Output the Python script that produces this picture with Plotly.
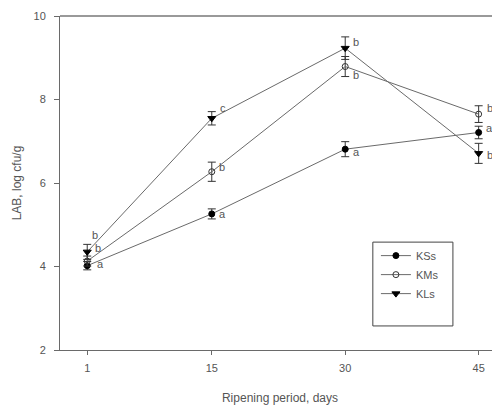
import plotly.graph_objects as go

days = [1, 15, 30, 45]
series_names = ["KSs", "KMs", "KLs"]
kss = [4.02, 5.26, 6.81, 7.21]
kms = [4.13, 6.27, 8.79, 7.65]
kls = [4.35, 7.55, 9.23, 6.71]
kss_err = [0.10, 0.12, 0.18, 0.15]
kms_err = [0.12, 0.23, 0.24, 0.20]
kls_err = [0.18, 0.16, 0.27, 0.24]
kss_letters = ["a", "a", "a", "a"]
kms_letters = ["b", "b", "b", "b"]
kls_letters = ["b", "c", "b", "b"]

x_ticks = [1, 15, 30, 45]
y_ticks = [2, 4, 6, 8, 10]

# label pixel offsets (style)
offsets = {
    "KSs": [(13, 2), (11, 0), (11, -3), (11, 4)],
    "KMs": [(11, 13), (10, 5), (11, -8), (11, 6)],
    "KLs": [(8, 17), (11, 10), (11, 6), (11, -2)],
}

line_col = "#6a6a6a"
txt_col = "#555555"
font_fam = "Liberation Sans, Arial, sans-serif"

fig = go.Figure()
specs = [
    ("KSs", kss, kss_err, kss_letters, dict(symbol="circle", size=6, color="black",
                                          line=dict(color="black", width=1))),
    ("KMs", kms, kms_err, kms_letters, dict(symbol="circle-open", size=6, color="#333333",
                                          line=dict(color="#333333", width=1))),
    ("KLs", kls, kls_err, kls_letters, dict(symbol="triangle-down", size=7, color="black",
                                          line=dict(color="black", width=1))),
]

for name, ys, errs, letters, mk in specs:
    fig.add_trace(go.Scatter(
        x=days, y=ys, name=name, mode="lines+markers",
        line=dict(color=line_col, width=1),
        marker=mk,
        error_y=dict(type="data", array=errs, visible=True, color="#333333",
                     thickness=1, width=4),
    ))
    for i, (xv, yv, lab) in enumerate(zip(days, ys, letters)):
        dx, dy = offsets[name][i]
        fig.add_annotation(x=xv, y=yv, text=lab, showarrow=False,
                           xshift=dx, yshift=dy,
                           font=dict(family=font_fam, size=11, color=txt_col))

# top border line
fig.add_shape(type="line", xref="paper", yref="paper", x0=0, x1=1, y0=1, y1=1,
              line=dict(color="#999999", width=2))
# legend box
fig.add_shape(type="rect", xref="paper", yref="paper",
              x0=0.711, x1=0.893, y0=0.072, y1=0.323,
              line=dict(color="#444444", width=1), fillcolor="rgba(0,0,0,0)")

fig.update_layout(
    width=500, height=406,
    margin=dict(l=52, r=8, t=8, b=64, autoexpand=False),
    paper_bgcolor="white", plot_bgcolor="white",
    font=dict(family=font_fam, size=11, color=txt_col),
    showlegend=True,
    legend=dict(x=0.718, y=0.326, xanchor="left", yanchor="top",
                bgcolor="rgba(0,0,0,0)", borderwidth=0,
                font=dict(family=font_fam, size=11, color=txt_col),
                itemwidth=30, tracegroupgap=0),
    xaxis=dict(range=[-2.06, 47.4], tickvals=x_ticks, ticktext=[str(t) for t in x_ticks],
               automargin=False,
               showgrid=False, zeroline=False, showline=True, linecolor=line_col,
               linewidth=1, ticks="outside", ticklen=4, tickcolor=line_col,
               ticklabelstandoff=4,
               title=dict(text="Ripening period, days", standoff=20,
                          font=dict(size=12, color=txt_col)),
               tickfont=dict(size=11, color=txt_col)),
    yaxis=dict(range=[2, 10], tickvals=y_ticks, showgrid=False, zeroline=False,
               automargin=False,
               showline=True, linecolor=line_col, linewidth=1,
               ticks="outside", ticklen=5, tickcolor=line_col,
               ticklabelstandoff=6,
               title=dict(text="LAB, log cfu/g", standoff=9,
                          font=dict(size=12, color=txt_col)),
               tickfont=dict(size=11, color=txt_col)),
)

fig.write_html("out.html")
